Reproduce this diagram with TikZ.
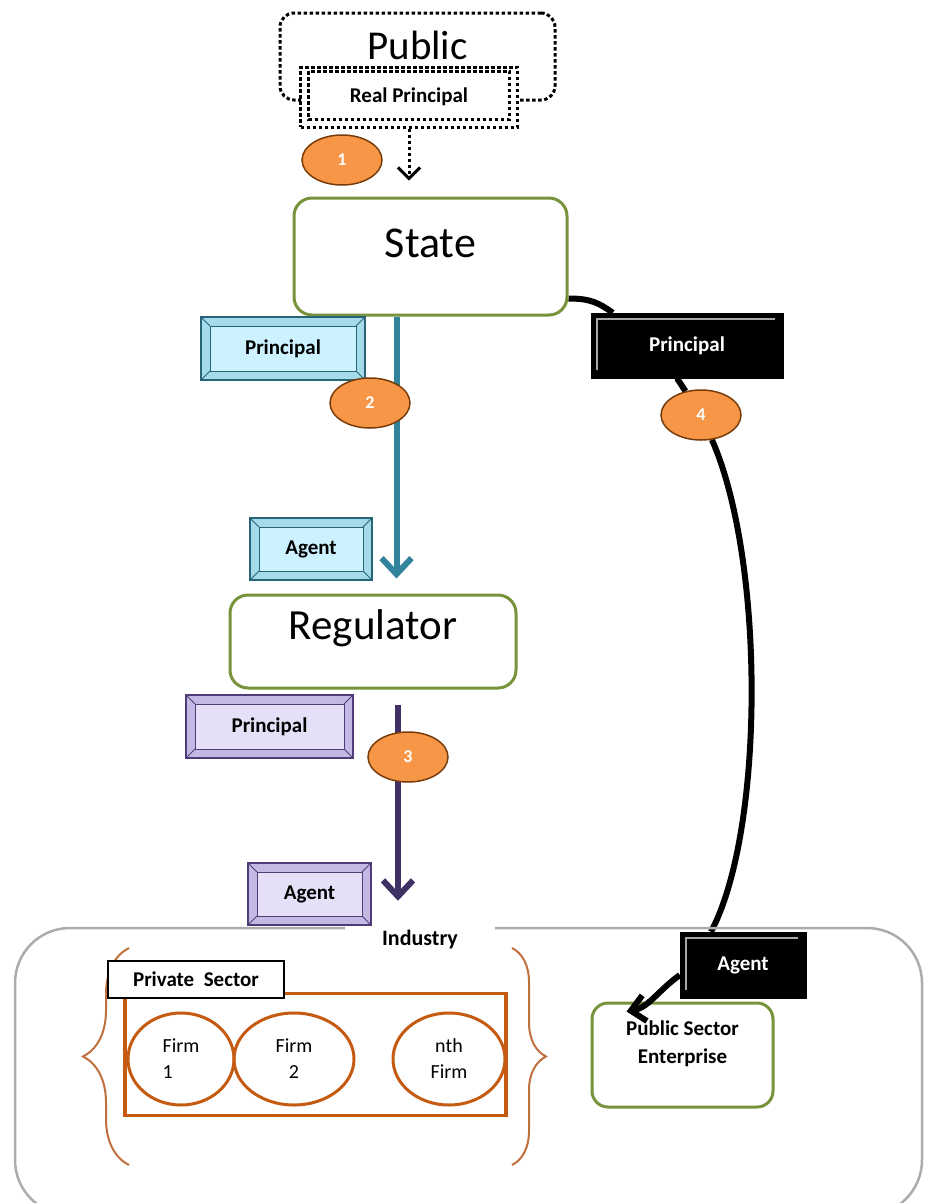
\documentclass[tikz,border=0pt]{standalone}
\usepackage{fontspec}
\setmainfont{Carlito}
\usetikzlibrary{shapes.geometric,arrows.meta,decorations.pathreplacing,backgrounds}

\definecolor{stategreen}{RGB}{119,147,60}
\definecolor{numfill}{RGB}{247,150,70}
\definecolor{numdraw}{RGB}{120,60,10}
\definecolor{tealline}{RGB}{49,132,155}
\definecolor{tealedge}{RGB}{40,100,120}
\definecolor{tealstrip}{RGB}{165,218,235}
\definecolor{tealface}{RGB}{205,242,255}
\definecolor{purpleline}{RGB}{64,49,100}
\definecolor{purpleedge}{RGB}{80,60,120}
\definecolor{purplestrip}{RGB}{195,185,228}
\definecolor{purpleface}{RGB}{229,224,247}
\definecolor{firmorange}{RGB}{197,90,17}
\definecolor{braceorange}{RGB}{192,112,60}

% inner face of a bevelled tag
\newcommand{\tagface}[2]{%
  \fill[#1] ([shift={(9pt,-9pt)}]path picture bounding box.north west) rectangle ([shift={(-9pt,9pt)}]path picture bounding box.south east);
  \draw[#2, line width=0.8pt] ([shift={(9pt,-9pt)}]path picture bounding box.north west) rectangle ([shift={(-9pt,9pt)}]path picture bounding box.south east);
  \draw[#2, line width=0.8pt] (path picture bounding box.north west) -- ([shift={(9pt,-9pt)}]path picture bounding box.north west);
  \draw[#2, line width=0.8pt] (path picture bounding box.north east) -- ([shift={(-9pt,-9pt)}]path picture bounding box.north east);
  \draw[#2, line width=0.8pt] (path picture bounding box.south west) -- ([shift={(9pt,9pt)}]path picture bounding box.south west);
  \draw[#2, line width=0.8pt] (path picture bounding box.south east) -- ([shift={(-9pt,9pt)}]path picture bounding box.south east);
}

\begin{document}
\begin{tikzpicture}[x=1pt,y=-1pt]

% definitions
\tikzstyle{dotbox} = [rectangle, draw=black, line width=3pt, dash pattern=on 3.5pt off 2.5pt]

\tikzstyle{bigbox} = [rectangle, rounded corners=18pt, draw=stategreen, line width=3pt, fill=white]

\tikzstyle{number} = [ellipse, draw=numdraw, line width=1.5pt, fill=numfill, minimum width=80pt, minimum height=50pt, inner sep=0pt, text=white, font=\bfseries\fontsize{18}{20}\selectfont]

\tikzstyle{bluetag} = [rectangle, draw=tealedge, line width=1.6pt, fill=tealstrip, font=\bfseries\fontsize{21}{24}\selectfont, path picture={\tagface{tealface}{tealedge}}]

\tikzstyle{purpletag} = [rectangle, draw=purpleedge, line width=1.6pt, fill=purplestrip, font=\bfseries\fontsize{21}{24}\selectfont, path picture={\tagface{purpleface}{purpleedge}}]

\tikzstyle{blacktag} = [rectangle, draw=black, fill=black, text=white, font=\bfseries\fontsize{21}{24}\selectfont, path picture={\draw[gray!70, line width=1.5pt] ([shift={(6pt,8pt)}]path picture bounding box.south west) -- ([shift={(6pt,-6pt)}]path picture bounding box.north west) -- ([shift={(-8pt,-6pt)}]path picture bounding box.north east);}]

\tikzstyle{firm} = [ellipse, draw=firmorange, line width=3pt, minimum height=92pt, inner sep=0pt, font=\fontsize{20}{26}\selectfont]

\tikzstyle{tealarrow} = [draw=tealline, line width=6pt, -{Straight Barb[length=16pt,width=30pt]}]
\tikzstyle{purplearrow} = [draw=purpleline, line width=6pt, -{Straight Barb[length=16pt,width=30pt]}]
\tikzstyle{blackline} = [draw=black, line width=6pt]

\useasboundingbox (0,0) rectangle (925,1203);

% the graph
\node (public) [dotbox, rounded corners=14pt, minimum width=275pt, minimum height=87pt, label={[yshift=11pt, font=\fontsize{41}{46}\selectfont]center:Public}] at (417.5,56.5) {};

\node (rp) [dotbox, fill=white, minimum width=217pt, minimum height=60pt, font=\bfseries\fontsize{21}{24}\selectfont, path picture={\draw[line width=3pt, dash pattern=on 3.5pt off 2.5pt] ([shift={(8pt,-4pt)}]path picture bounding box.north west) rectangle ([shift={(-8pt,8pt)}]path picture bounding box.south east);}] at (409,97) {Real Principal};

\node (c1) [number] at (342,160) {1};

\node (state) [bigbox, minimum width=273pt, minimum height=117pt, label={[yshift=13pt, font=\fontsize{44}{50}\selectfont]center:State}] at (430.5,256.5) {};

\node (bluep) [bluetag, minimum width=164pt, minimum height=63pt] at (283,348.5) {Principal};
\node (c2) [number] at (370,403) {2};
\node (bluea) [bluetag, minimum width=122pt, minimum height=62pt] at (311,549) {Agent};

\node (reg) [bigbox, minimum width=286pt, minimum height=93pt, label={[yshift=13pt, font=\fontsize{43}{48}\selectfont]center:Regulator}] at (373,641.5) {};

\node (purpp) [purpletag, minimum width=167pt, minimum height=63pt] at (269.5,726.5) {Principal};
\node (c3) [number] at (408,757) {3};
\node (purpa) [purpletag, minimum width=123pt, minimum height=62pt] at (309.5,894) {Agent};

\node (blackp) [blacktag, minimum width=192pt, minimum height=65pt] at (687,345.5) {Principal};
\node (c4) [number] at (701,415) {4};

% industry
\node (ind) [rectangle, rounded corners=55pt, draw=gray!65, line width=2.5pt, minimum width=907pt, minimum height=287pt] at (468.5,1071.5) {};
\node (indlabel) [fill=white, minimum width=150pt, minimum height=26pt, inner sep=0pt, font=\bfseries\fontsize{22}{24}\selectfont] at (420,939) {Industry};

\draw [braceorange, line width=2pt, decorate, decoration={brace, amplitude=46pt}] (129,1165) -- (129,948);
\draw [braceorange, line width=2pt, decorate, decoration={brace, amplitude=34pt}] (512,948) -- (512,1165);

\node (privbox) [rectangle, draw=firmorange, line width=3.5pt, minimum width=381pt, minimum height=122pt] at (315.5,1054.5) {};
\node (privtag) [rectangle, draw=black, line width=1.5pt, fill=white, minimum width=176pt, minimum height=37pt, font=\bfseries\fontsize{21}{24}\selectfont] at (196,979.5) {Private\ \ Sector};

\node (firm1) [firm, minimum width=106pt, align=left] at (181,1059) {Firm\\1};
\node (firm2) [firm, minimum width=120pt, align=center] at (294,1059) {Firm\\2};
\node (firmn) [firm, minimum width=112pt, align=center] at (449,1059) {nth\\Firm};

\node (blacka) [blacktag, minimum width=126pt, minimum height=66pt] at (743,965) {Agent};

\node (pse) [bigbox, rounded corners=16pt, minimum width=181pt, minimum height=104pt, label={[yshift=11pt, align=center, font=\bfseries\fontsize{21}{28}\selectfont]center:Public Sector\\Enterprise}] at (682.5,1055) {};

% connectors
\begin{pgfonlayer}{background}
\draw [line width=3pt, dash pattern=on 3.5pt off 2.5pt, -{Straight Barb[length=11pt,width=22pt]}, shorten >=16pt] (rp.south) -- (rp.south |- state.north);

\coordinate (p2) at ([xshift=-34pt]state.south);
\draw [tealarrow, shorten >=15pt] (p2) -- (p2 |- reg.north);

\coordinate (p3) at ([xshift=25pt]reg.south);
\draw [purplearrow, shorten <=15pt, shorten >=26pt] (p3) -- (p3 |- ind.north);

\draw [blackline] ([yshift=-42pt]state.east) .. controls +(22,0) and +(-14,-10) .. ([xshift=22pt]blackp.north west);
\draw [blackline] ([xshift=-10pt]blackp.south) -- (c4);
\draw [blackline] (c4) .. controls (765,560) and (765,830) .. ([xshift=-32pt]blacka.north);
\end{pgfonlayer}
\draw [blackline, -{Straight Barb[length=14pt,width=26pt]}] ([yshift=-10pt]blacka.west) .. controls +(-22,16) and +(22,-4) .. ([xshift=36pt,yshift=-10pt]pse.north west);

\end{tikzpicture}
\end{document}
